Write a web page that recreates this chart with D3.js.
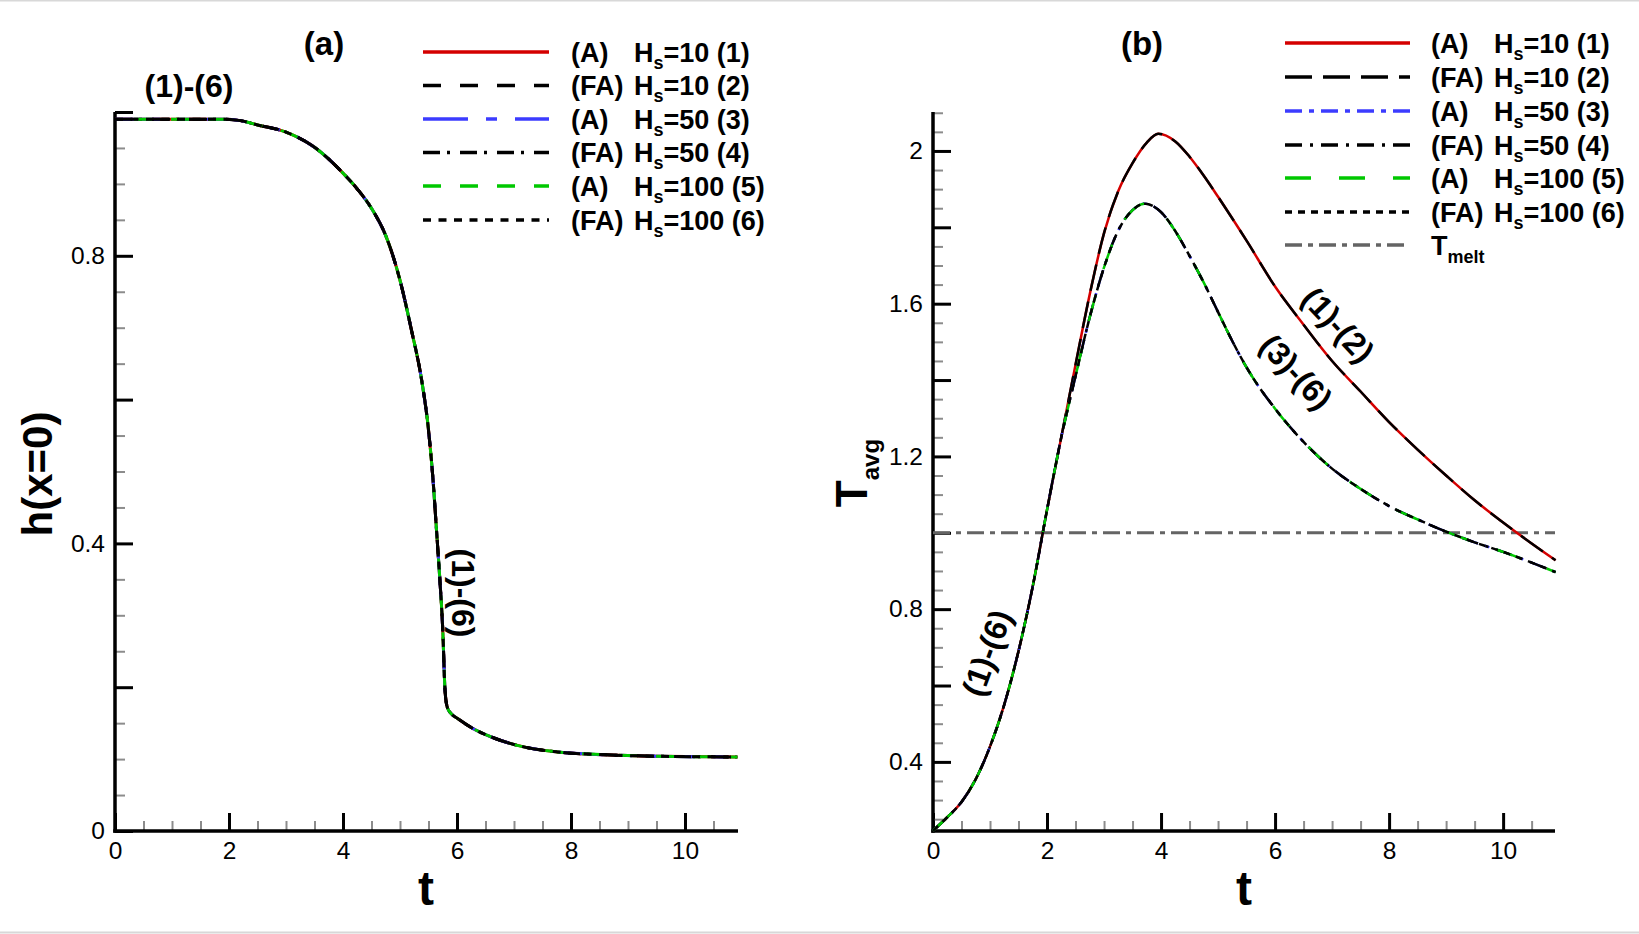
<!DOCTYPE html>
<html><head><meta charset="utf-8">
<script src="https://cdn.jsdelivr.net/npm/d3@7"></script>
<style>body{margin:0;background:#fff}svg{display:block}</style>
</head><body>
<svg id="c" width="1639" height="934"></svg>
<script>
// ---------------- DATA ----------------
// Panel (a): h(x=0) vs t  (all six cases coincide)
const tH   = [0, 0.5, 1.0, 1.5, 1.9, 2.2, 2.5, 3.0, 3.5, 4.0, 4.25, 4.5, 4.75, 5.0, 5.2, 5.38, 5.5, 5.58, 5.64, 5.7, 5.75, 5.79, 5.83, 5.9, 6.0, 6.27, 6.66, 7.17, 7.76, 8.61, 9.5, 10.92];
const hA10   = [0.99,0.99,0.99,0.99,0.99,0.988,0.982,0.972,0.951,0.915,0.893,0.866,0.828,0.766,0.697,0.627,0.558,0.488,0.419,0.349,0.28,0.196,0.172,0.163,0.157,0.143,0.129,0.117,0.110,0.106,0.104,0.103];
const hFA10  = hA10, hA50 = hA10, hFA50 = hA10, hA100 = hA10, hFA100 = hA10;

// Panel (b): T_avg vs t
const tT10 = [0,0.25,0.5,0.75,1.0,1.25,1.5,1.75,2.0,2.25,2.5,2.75,3.0,3.25,3.5,3.75,3.95,4.25,4.5,4.75,5.0,5.5,6.0,6.5,7.0,7.5,8.0,8.5,9.0,9.5,10.0,10.5,10.92];
const TavgHs10 = [0.22,0.255,0.295,0.355,0.44,0.55,0.69,0.86,1.06,1.25,1.44,1.625,1.785,1.895,1.968,2.022,2.045,2.025,1.985,1.935,1.88,1.765,1.645,1.545,1.45,1.37,1.29,1.218,1.15,1.085,1.027,0.972,0.928];
const tT50 = [0,0.25,0.5,0.75,1.0,1.25,1.5,1.75,2.0,2.25,2.5,2.75,3.0,3.25,3.5,3.71,4.0,4.25,4.5,4.75,5.0,5.25,5.5,6.0,6.5,7.0,7.5,8.0,8.5,9.0,9.5,10.0,10.5,10.92];
const TavgHs50 = [0.22,0.255,0.295,0.355,0.44,0.55,0.69,0.86,1.06,1.25,1.41,1.565,1.695,1.792,1.845,1.862,1.84,1.79,1.725,1.655,1.578,1.502,1.433,1.325,1.238,1.168,1.115,1.07,1.035,1.003,0.975,0.95,0.922,0.897];
const TavgHs100 = TavgHs50;
const Tmelt = 1.0;

// Series labels
const seriesPrefix = ["(A)", "(FA)", "(A)", "(FA)", "(A)", "(FA)"];
const seriesHs     = ["10", "10", "50", "50", "100", "100"];
const seriesNum    = ["(1)", "(2)", "(3)", "(4)", "(5)", "(6)"];

// Ticks
const xMajor = [0, 2, 4, 6, 8, 10];
const xMinor = [0.5,1,1.5,2.5,3,3.5,4.5,5,5.5,6.5,7,7.5,8.5,9,9.5,10.5];
const yMajorA = [0, 0.2, 0.4, 0.6, 0.8, 1.0];
const yLabelA = [0, 0.4, 0.8];
const yMinorA = [0.05,0.1,0.15,0.25,0.3,0.35,0.45,0.5,0.55,0.65,0.7,0.75,0.85,0.9,0.95];
const yMajorB = [0.4,0.6,0.8,1.0,1.2,1.4,1.6,1.8,2.0];
const yLabelB = [0.4,0.8,1.2,1.6,2.0];
const yMinorB = [0.25,0.3,0.35,0.45,0.5,0.55,0.65,0.7,0.75,0.85,0.9,0.95,1.05,1.1,1.15,1.25,1.3,1.35,1.45,1.5,1.55,1.65,1.7,1.75,1.85,1.9,1.95,2.05,2.1];

// ---------------- STYLE ----------------
const FONT = "'Liberation Sans', Arial, Helvetica, sans-serif";
const colors = ["#d40000", "#000000", "#3c3cff", "#000000", "#00c800", "#000000"];
const dashA = [null, "18,19", "45,18,11,18", "17,7,3,10", "18,19", "8,7.5"];
const dashB = [null, "27,11", "17,7,5,7", "17,8,3,8", "26,28", "7,6"];

const svg = d3.select("#c");
svg.append("rect").attr("width",1639).attr("height",934).attr("fill","#fff");
svg.append("line").attr("x1",0).attr("x2",1639).attr("y1",0.5).attr("y2",0.5).attr("stroke","#d8d8d8").attr("stroke-width",2);
svg.append("line").attr("x1",0).attr("x2",1639).attr("y1",932.5).attr("y2",932.5).attr("stroke","#d8d8d8").attr("stroke-width",2);

const xA = d3.scaleLinear().domain([0,10.93]).range([115,738]);
const yA = d3.scaleLinear().domain([0,1]).range([831,112]);
const xB = d3.scaleLinear().domain([0,10.91]).range([933,1555]);
const yB = d3.scaleLinear().domain([0.219,2.102]).range([831,112]);

function axes(x, y, yMaj, yMin, yLab, yFmt) {
  const g = svg.append("g");
  const y0 = y.range()[0];
  const x0 = x.range()[0];
  const gxm = g.append("g").attr("transform",`translate(0,${y0})`)
    .call(d3.axisBottom(x).tickValues(xMinor).tickSize(-10).tickFormat(""));
  gxm.select(".domain").remove();
  gxm.selectAll("line").attr("stroke","#8c8c8c").attr("stroke-width",2);
  const gx = g.append("g").attr("transform",`translate(0,${y0})`)
    .call(d3.axisBottom(x).tickValues(xMajor).tickSize(-18).tickPadding(10.5).tickFormat(d3.format("d")));
  gx.select(".domain").remove();
  gx.selectAll("line").attr("stroke","#000").attr("stroke-width",3);
  gx.selectAll("text").attr("font-family",FONT).attr("font-size","24.5px").attr("fill","#000");
  const gym = g.append("g").attr("transform",`translate(${x0},0)`)
    .call(d3.axisLeft(y).tickValues(yMin).tickSize(-10).tickFormat(""));
  gym.select(".domain").remove();
  gym.selectAll("line").attr("stroke","#8c8c8c").attr("stroke-width",2);
  const gy = g.append("g").attr("transform",`translate(${x0},0)`)
    .call(d3.axisLeft(y).tickValues(yMaj).tickSize(-18).tickPadding(10)
      .tickFormat(d => yLab.some(v => Math.abs(v-d)<1e-9) ? yFmt(d) : ""));
  gy.select(".domain").remove();
  gy.selectAll("line").attr("stroke","#000").attr("stroke-width",3);
  gy.selectAll("text").attr("font-family",FONT).attr("font-size","24.5px").attr("fill","#000");
  g.append("line").attr("x1",x0-1.75).attr("x2",x.range()[1]).attr("y1",y0).attr("y2",y0)
    .attr("stroke","#000").attr("stroke-width",3.5);
  g.append("line").attr("x1",x0).attr("x2",x0).attr("y1",y0+1.75).attr("y2",y.range()[1])
    .attr("stroke","#000").attr("stroke-width",3.5);
}
axes(xA, yA, yMajorA, yMinorA, yLabelA, d => d===0 ? "0" : d3.format(".1f")(d));
axes(xB, yB, yMajorB, yMinorB, yLabelB, d => Math.abs(d-2)<1e-9 ? "2" : d3.format(".1f")(d));

// ---------------- CURVES ----------------
const lineA = d3.line().x((d,i)=>xA(tH[i])).y(d=>yA(d)).curve(d3.curveMonotoneX);
const hSeries = [hA10, hFA10, hA50, hFA50, hA100, hFA100];
hSeries.forEach((s,i) => {
  svg.append("path").attr("d", lineA(s)).attr("fill","none")
    .attr("stroke", colors[i]).attr("stroke-width", 3)
    .attr("stroke-dasharray", dashA[i]).attr("stroke-dashoffset", i===4 ? 18 : 0)
    .attr("stroke-linejoin","round");
});

// T_melt
svg.append("path")
  .attr("d", d3.line().x(d=>xB(d)).y(()=>yB(Tmelt))([0, 10.91]))
  .attr("stroke","#646464").attr("stroke-width",3).attr("fill","none")
  .attr("stroke-dasharray","17,6,5,6");

const tSeries = [tT10, tT10, tT50, tT50, tT50, tT50];
const TSeries = [TavgHs10, TavgHs10, TavgHs50, TavgHs50, TavgHs100, TavgHs100];
TSeries.forEach((s,i) => {
  const ts = tSeries[i];
  const ln = d3.line().x((d,j)=>xB(ts[j])).y(d=>yB(d)).curve(d3.curveMonotoneX);
  svg.append("path").attr("d", ln(s)).attr("fill","none")
    .attr("stroke", colors[i]).attr("stroke-width", 2.5)
    .attr("stroke-dasharray", dashB[i]).attr("stroke-linejoin","round");
});

// ---------------- LEGENDS ----------------
function legendRow(lx0, lx1, ly, color, dash, tx, parts) {
  svg.append("line").attr("x1",lx0).attr("x2",lx1).attr("y1",ly).attr("y2",ly)
    .attr("stroke",color).attr("stroke-width",3.3).attr("stroke-dasharray",dash);
  const t = svg.append("text").attr("x",tx).attr("y",ly+9.5)
    .attr("font-family",FONT).attr("font-weight","bold").attr("font-size","27px").attr("fill","#000");
  parts(t);
}
const rowsA = [52, 85.5, 119, 152.5, 186, 220];
rowsA.forEach((ry,i) => legendRow(423, 549, ry, colors[i], dashA[i], 571, t => {
  t.append("tspan").text(seriesPrefix[i]);
  t.append("tspan").attr("x",634).text("H");
  t.append("tspan").attr("font-size","18px").attr("dy",7).text("s");
  t.append("tspan").attr("dy",-7).text("=" + seriesHs[i] + " " + seriesNum[i]);
}));
const rowsB = [43, 77, 111, 145, 178, 212, 245];
rowsB.slice(0,6).forEach((ry,i) => legendRow(1285, 1410, ry, colors[i], dashB[i], 1431, t => {
  t.append("tspan").text(seriesPrefix[i]);
  t.append("tspan").attr("x",1494).text("H");
  t.append("tspan").attr("font-size","18px").attr("dy",7).text("s");
  t.append("tspan").attr("dy",-7).text("=" + seriesHs[i] + " " + seriesNum[i]);
}));
legendRow(1285, 1410, rowsB[6], "#646464", "17,6,5,6", 1431, t => {
  t.append("tspan").text("T");
  t.append("tspan").attr("font-size","18px").attr("dy",8).text("melt");
});

// ---------------- TEXT ----------------
function bold(x, y, size, txt, rot) {
  return svg.append("text").attr("transform",`translate(${x},${y}) rotate(${rot||0})`)
    .attr("text-anchor","middle").attr("font-family",FONT).attr("font-weight","bold")
    .attr("font-size",size+"px").attr("fill","#000").text(txt);
}
bold(324, 55, 33, "(a)");
bold(1142, 55, 33, "(b)");
bold(189, 97, 32, "(1)-(6)");
bold(463, 593, 32, "(1)-(6)", 90).attr("dominant-baseline","central");
bold(1338, 325, 32, "(1)-(2)", 47).attr("dominant-baseline","central");
bold(1296, 372, 32, "(3)-(6)", 47).attr("dominant-baseline","central");
bold(987, 653, 32, "(1)-(6)", -70).attr("dominant-baseline","central");

// axis titles
bold(426, 905, 48, "t");
bold(1244, 905, 48, "t");
bold(37, 474, 42, "h(x=0)", -90).attr("dominant-baseline","central");
const tl = svg.append("text").attr("transform","translate(867,473) rotate(-90)")
  .attr("text-anchor","middle").attr("font-family",FONT).attr("font-weight","bold").attr("fill","#000");
tl.append("tspan").attr("font-size","44px").text("T");
tl.append("tspan").attr("font-size","24px").attr("dy",12).text("avg");
</script>
</body></html>
